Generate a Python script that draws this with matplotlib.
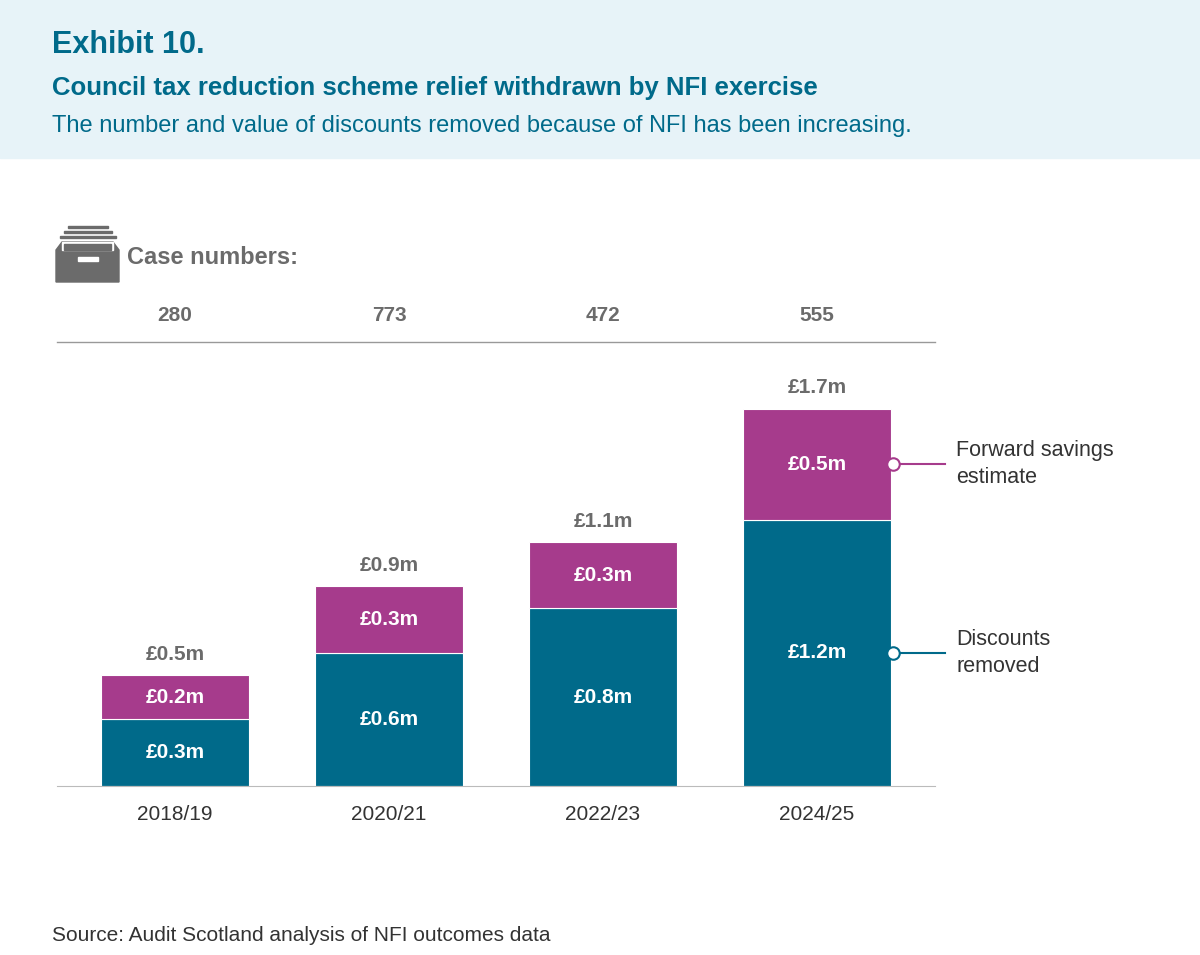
import matplotlib
matplotlib.use('Agg')
from matplotlib import pyplot as plt
from matplotlib.patches import Rectangle, Polygon

plt.rcParams['font.family'] = ['Liberation Sans', 'DejaVu Sans']

years = ['2018/19', '2020/21', '2022/23', '2024/25']
cases = [280, 773, 472, 555]
discounts = [0.3, 0.6, 0.8, 1.2]
forward = [0.2, 0.3, 0.3, 0.5]
totals = [0.5, 0.9, 1.1, 1.7]

TEAL = '#006a8a'
PURPLE = '#a63b8c'
GREY = '#6b6b6b'
W, H = 1200, 955

fig = plt.figure(figsize=(12, 9.55), dpi=100)


def px(x, y):
    return x / W, 1 - y / H


def txt(x, y, s, **kw):
    fig.text(*px(x, y), s, **kw)


# header band
fig.patches.append(Rectangle((0, 1 - 158 / H), 1, 158 / H, transform=fig.transFigure,
                             color='#e7f3f8', zorder=0))
txt(52, 45, 'Exhibit 10.', fontsize=22, fontweight='bold', color=TEAL, va='center')
txt(52, 88, 'Council tax reduction scheme relief withdrawn by NFI exercise',
    fontsize=18.5, fontweight='bold', color=TEAL, va='center')
txt(52, 126, 'The number and value of discounts removed because of NFI has been increasing.',
    fontsize=17, color=TEAL, va='center')

# icon
def rect(x0, y0, x1, y1, c):
    fig.patches.append(Rectangle(px(x0, y1), (x1 - x0) / W, (y1 - y0) / H,
                                 transform=fig.transFigure, color=c))

rect(68, 226, 108, 228, GREY)
rect(64, 231, 112, 233, GREY)
rect(60, 236, 116, 238, GREY)
fig.patches.append(Polygon([px(56, 282), px(56, 250), px(62, 242), px(113, 242),
                            px(119, 250), px(119, 282)], closed=True,
                           transform=fig.transFigure, color=GREY))
rect(62, 242, 113, 250, 'white')
rect(64, 244, 111, 250, GREY)
rect(78, 257, 98, 261, 'white')
txt(127, 258, 'Case numbers:', fontsize=17, fontweight='bold', color=GREY, va='center')

ax = fig.add_axes([57 / W, (H - 786) / H, 878 / W, 446 / H])
x = list(range(len(years)))
ax.bar(x, discounts, width=0.69, color=TEAL, edgecolor='white', linewidth=0.8)
ax.bar(x, forward, bottom=discounts, width=0.69, color=PURPLE, edgecolor='white', linewidth=0.8)
ax.set_xlim(-0.551, 3.551)
ax.set_ylim(0, 2.009)
for s in ['top', 'right', 'left']:
    ax.spines[s].set_visible(False)
ax.spines['bottom'].set_color('#bbbbbb')
ax.set_yticks([])
ax.set_xticks(x)
ax.set_xticklabels(years, fontsize=15, color='#333333')
ax.tick_params(axis='x', length=0, pad=14)
for i in x:
    ax.text(i, discounts[i] / 2, f'£{discounts[i]:.1f}m', ha='center', va='center',
            color='white', fontsize=15, fontweight='bold')
    ax.text(i, discounts[i] + forward[i] / 2, f'£{forward[i]:.1f}m', ha='center', va='center',
            color='white', fontsize=15, fontweight='bold')
    ax.text(i, totals[i] + 0.05, f'£{totals[i]:.1f}m', ha='center', va='bottom',
            color=GREY, fontsize=15, fontweight='bold')
    ax.text(i, 2.12, str(cases[i]), ha='center', va='center', color=GREY,
            fontsize=15, fontweight='bold', clip_on=False)
ax.plot([-0.551, 3.551], [2.0, 2.0], color='#999999', lw=1, clip_on=False)

# series labels
for yv, c, lab in [(discounts[3] + forward[3] / 2, PURPLE, 'Forward savings\nestimate'),
                   (discounts[3] / 2, TEAL, 'Discounts\nremoved')]:
    ax.plot([3.355, 3.6], [yv, yv], color=c, lw=1.5, clip_on=False)
    ax.plot(3.355, yv, 'o', ms=9, mfc='white', mec=c, mew=1.5, clip_on=False)
    ax.text(3.65, yv, lab, va='center', ha='left', fontsize=15.5, color='#333333',
            linespacing=1.35, clip_on=False)

txt(52, 935, 'Source: Audit Scotland analysis of NFI outcomes data', fontsize=15,
    color='#333333', va='center')

fig.savefig('out.png', dpi=100)
